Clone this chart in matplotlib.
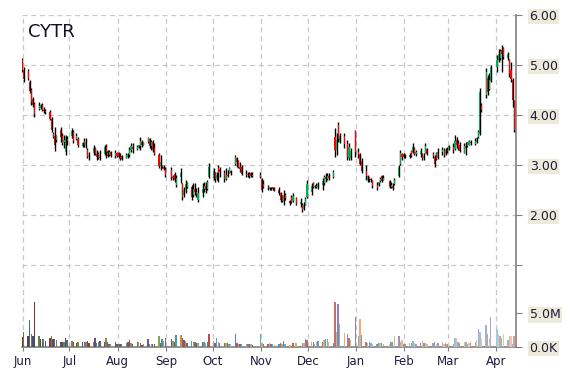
import matplotlib
matplotlib.use('Agg')
import matplotlib.pyplot as plt
import matplotlib.dates as mdates
import matplotlib.colors as mcolors
import numpy as np
import pandas as pd

# daily bars, 2012-05-31 .. 2013-04-12 (market holidays dropped)
ticker = 'CYTR'
holidays = ['2012-07-04', '2012-09-03', '2012-10-29', '2012-10-30', '2012-11-22',
            '2012-12-25', '2013-01-01', '2013-01-21', '2013-02-18', '2013-03-29']
days = pd.bdate_range('2012-05-31', '2013-04-12')
days = days[~days.isin(pd.to_datetime(holidays))]

opens = [5.10,
         4.90, 4.88, 4.66, 4.50, 4.32, 4.22, 4.12, 4.13, 4.20, 4.10, 4.08, 4.06, 3.92, 3.62, 3.58, 3.50, 3.70, 3.58, 3.45, 3.25, 3.52,
         3.58, 3.66, 3.52, 3.52, 3.38, 3.48, 3.40, 3.30, 3.18, 3.24, 3.34, 3.22, 3.22, 3.14, 3.22, 3.36, 3.28, 3.20, 3.26, 3.18, 3.24,
         3.24, 3.16, 3.18, 3.14, 3.15, 3.20, 3.30, 3.36, 3.32, 3.34, 3.38, 3.46, 3.40, 3.45, 3.52, 3.38, 3.46, 3.34, 3.20, 2.98, 2.98, 2.95, 2.92,
         2.90, 2.76, 2.82, 2.60, 2.75, 2.62, 2.40, 2.50, 2.56, 2.56, 2.40, 2.52, 2.46, 2.30, 2.44, 2.52, 2.58, 2.52, 2.76,
         2.74, 2.86, 2.74, 2.94, 2.92, 2.84, 2.72, 2.80, 2.84, 2.88, 3.02, 3.14, 3.08, 2.96, 2.96, 2.82, 2.80, 2.82, 2.84, 2.78, 2.80,
         2.72, 2.62, 2.55, 2.52, 2.55, 2.56, 2.52, 2.50, 2.44, 2.38, 2.28, 2.40, 2.28, 2.36, 2.28, 2.34, 2.22, 2.20, 2.12, 2.20, 2.36,
         2.46, 2.64, 2.55, 2.58, 2.56, 2.60, 2.64, 2.76, 2.72, 2.78, 2.76, 3.56, 3.30, 3.80, 3.46, 3.58, 3.42, 3.14, 3.14, 3.68,
         3.26, 3.22, 3.08, 2.88, 2.70, 2.76, 2.72, 2.68, 2.60, 2.60, 2.68, 2.78, 2.70, 2.68, 2.56, 2.58, 2.62, 2.78, 3.02, 3.22, 3.22,
         3.18, 3.16, 3.28, 3.26, 3.34, 3.22, 3.22, 3.22, 3.14, 3.24, 3.32, 3.22, 3.16, 3.24, 3.14, 3.26, 3.30, 3.22, 3.30,
         3.30, 3.36, 3.32, 3.50, 3.44, 3.40, 3.24, 3.38, 3.37, 3.40, 3.46, 3.42, 3.46, 3.55, 3.62, 4.20, 4.40, 4.74, 4.52, 4.68,
         4.95, 5.10, 5.14, 5.30, 5.34, 5.14, 5.10, 4.90, 4.70, 4.28]

highs = [5.14,
         4.96, 4.91, 4.69, 4.53, 4.36, 4.26, 4.26, 4.21, 4.24, 4.16, 4.12, 4.09, 3.96, 3.66, 3.76, 3.60, 3.76, 3.63, 3.60, 3.60, 3.58,
         3.73, 3.70, 3.63, 3.56, 3.46, 3.53, 3.53, 3.33, 3.26, 3.40, 3.36, 3.30, 3.26, 3.30, 3.40, 3.41, 3.30, 3.30, 3.28, 3.30, 3.26,
         3.26, 3.23, 3.20, 3.23, 3.23, 3.36, 3.43, 3.43, 3.40, 3.40, 3.56, 3.49, 3.46, 3.56, 3.53, 3.49, 3.49, 3.43, 3.23, 3.20, 3.00, 3.00, 2.96,
         2.96, 2.80, 2.86, 2.80, 2.93, 2.63, 2.56, 2.70, 2.66, 2.60, 2.63, 2.63, 2.53, 2.56, 2.63, 2.66, 2.66, 2.70, 3.03,
         2.93, 2.86, 2.86, 3.00, 2.96, 2.90, 2.93, 2.90, 2.96, 2.90, 3.20, 3.16, 3.10, 3.06, 3.00, 2.90, 2.86, 2.86, 2.86, 2.85, 2.86,
         2.73, 2.70, 2.60, 2.56, 2.56, 2.56, 2.55, 2.56, 2.46, 2.40, 2.50, 2.44, 2.30, 2.40, 2.43, 2.36, 2.33, 2.23, 2.26, 2.36, 2.70,
         2.63, 2.66, 2.60, 2.63, 2.66, 2.73, 2.80, 2.83, 2.83, 2.83, 2.90, 3.73, 3.63, 3.86, 3.63, 3.63, 3.49, 3.43, 3.33, 3.69,
         3.33, 3.23, 3.13, 2.99, 2.80, 2.76, 2.73, 2.70, 2.66, 2.66, 2.76, 2.80, 2.80, 2.70, 2.66, 2.63, 2.73, 2.99, 3.30, 3.23, 3.23,
         3.22, 3.23, 3.30, 3.43, 3.36, 3.30, 3.33, 3.23, 3.23, 3.43, 3.33, 3.26, 3.19, 3.26, 3.33, 3.36, 3.33, 3.33, 3.36,
         3.39, 3.43, 3.59, 3.56, 3.49, 3.46, 3.43, 3.46, 3.46, 3.49, 3.50, 3.53, 3.56, 3.69, 4.53, 4.23, 4.93, 4.79, 4.83, 4.99,
         5.19, 5.32, 5.32, 5.39, 5.36, 5.26, 5.12, 5.06, 4.73, 4.30]

lows = [4.86,
        4.66, 4.69, 4.43, 4.19, 4.16, 3.96, 4.09, 4.11, 4.07, 4.03, 4.02, 3.89, 3.65, 3.53, 3.28, 3.45, 3.46, 3.40, 3.33, 3.20, 3.40,
        3.53, 3.43, 3.50, 3.36, 3.36, 3.36, 3.33, 3.13, 3.10, 3.20, 3.20, 3.10, 3.12, 3.10, 3.20, 3.13, 3.16, 3.18, 3.16, 3.13, 3.16,
        3.13, 3.10, 3.10, 3.13, 3.13, 3.16, 3.26, 3.23, 3.30, 3.33, 3.30, 3.36, 3.39, 3.43, 3.33, 3.30, 3.26, 3.20, 2.93, 2.90, 2.93, 2.90, 2.76,
        2.70, 2.70, 2.66, 2.56, 2.63, 2.30, 2.36, 2.43, 2.53, 2.30, 2.36, 2.40, 2.36, 2.26, 2.36, 2.46, 2.43, 2.50, 2.73,
        2.70, 2.66, 2.70, 2.66, 2.76, 2.66, 2.70, 2.76, 2.83, 2.80, 3.00, 2.96, 2.93, 2.86, 2.80, 2.76, 2.76, 2.73, 2.76, 2.76, 2.73,
        2.46, 2.53, 2.50, 2.50, 2.50, 2.50, 2.47, 2.40, 2.26, 2.26, 2.20, 2.30, 2.20, 2.23, 2.26, 2.20, 2.16, 2.06, 2.10, 2.20, 2.33,
        2.40, 2.53, 2.53, 2.53, 2.52, 2.50, 2.60, 2.66, 2.70, 2.70, 2.73, 3.16, 3.20, 3.46, 3.43, 3.33, 3.10, 3.10, 3.10, 3.16,
        3.13, 2.99, 2.83, 2.70, 2.66, 2.66, 2.66, 2.53, 2.50, 2.58, 2.66, 2.66, 2.70, 2.53, 2.53, 2.50, 2.60, 2.76, 2.99, 3.10, 3.13,
        3.14, 3.13, 3.16, 3.23, 3.20, 3.18, 3.16, 3.10, 3.10, 3.23, 3.20, 3.13, 2.96, 3.10, 3.12, 3.20, 3.16, 3.20, 3.23,
        3.30, 3.23, 3.30, 3.33, 3.30, 3.26, 3.23, 3.20, 3.36, 3.39, 3.40, 3.39, 3.43, 3.53, 3.59, 4.06, 4.33, 4.39, 4.49, 4.66,
        4.86, 5.06, 5.09, 4.86, 5.12, 5.09, 4.76, 4.66, 4.16, 3.66]

closes = [4.90,
          4.72, 4.72, 4.48, 4.25, 4.20, 4.02, 4.18, 4.19, 4.10, 4.08, 4.06, 3.92, 3.70, 3.56, 3.40, 3.58, 3.55, 3.44, 3.50, 3.55, 3.48,
          3.68, 3.48, 3.58, 3.40, 3.44, 3.40, 3.45, 3.16, 3.20, 3.34, 3.22, 3.15, 3.14, 3.20, 3.36, 3.25, 3.18, 3.25, 3.18, 3.24, 3.18,
          3.16, 3.14, 3.12, 3.20, 3.21, 3.30, 3.38, 3.32, 3.36, 3.39, 3.48, 3.40, 3.44, 3.54, 3.38, 3.45, 3.30, 3.22, 2.98, 3.05, 2.95, 2.92, 2.80,
          2.76, 2.74, 2.70, 2.74, 2.85, 2.36, 2.50, 2.62, 2.64, 2.36, 2.52, 2.46, 2.42, 2.44, 2.52, 2.58, 2.50, 2.66, 2.95,
          2.88, 2.72, 2.80, 2.84, 2.86, 2.72, 2.80, 2.78, 2.94, 2.84, 3.15, 3.05, 2.96, 2.92, 2.82, 2.80, 2.82, 2.78, 2.78, 2.80, 2.76,
          2.50, 2.55, 2.54, 2.55, 2.53, 2.51, 2.50, 2.44, 2.30, 2.28, 2.40, 2.34, 2.24, 2.26, 2.38, 2.22, 2.26, 2.10, 2.20, 2.32, 2.62,
          2.58, 2.55, 2.58, 2.56, 2.62, 2.68, 2.76, 2.72, 2.78, 2.74, 2.86, 3.29, 3.50, 3.52, 3.58, 3.42, 3.16, 3.36, 3.28, 3.26,
          3.20, 3.02, 2.88, 2.78, 2.78, 2.72, 2.70, 2.58, 2.54, 2.65, 2.72, 2.68, 2.74, 2.56, 2.60, 2.54, 2.70, 2.96, 3.24, 3.16, 3.15,
          3.17, 3.20, 3.18, 3.36, 3.22, 3.26, 3.28, 3.14, 3.18, 3.38, 3.22, 3.18, 3.02, 3.12, 3.26, 3.30, 3.20, 3.30, 3.28,
          3.37, 3.30, 3.48, 3.40, 3.34, 3.28, 3.38, 3.34, 3.44, 3.47, 3.44, 3.48, 3.54, 3.66, 4.45, 4.10, 4.85, 4.45, 4.70, 4.95,
          5.10, 5.22, 5.28, 5.22, 5.16, 5.22, 4.82, 4.72, 4.30, 3.70]

# volume in millions of shares
volumes = [1.5,
           2.2, 1.6, 4.0, 1.9, 1.6, 6.7, 1.7, 1.2, 1.2, 1.2, 0.9, 1.4, 1.7, 1.2, 1.2, 1.1, 0.8, 0.8, 0.8, 1.4, 1.1,
           0.9, 0.8, 0.6, 0.7, 0.8, 0.7, 0.8, 0.9, 0.6, 0.7, 1.3, 0.6, 0.7, 0.9, 0.7, 1.4, 0.7, 0.5, 0.5, 0.8, 0.5,
           0.4, 0.5, 0.5, 0.6, 0.7, 1.0, 0.6, 0.5, 0.7, 0.7, 0.6, 0.3, 0.5, 1.2, 0.5, 0.4, 0.5, 0.5, 1.6, 0.6, 1.2, 0.9, 1.4,
           1.2, 0.9, 0.8, 1.8, 1.8, 1.4, 1.1, 0.9, 0.6, 0.9, 0.7, 0.8, 0.6, 0.6, 0.7, 0.7, 0.6, 0.7, 1.9,
           0.9, 0.6, 1.4, 0.7, 0.6, 0.6, 0.6, 0.6, 0.5, 0.5, 1.9, 0.6, 0.5, 0.5, 0.5, 0.4, 0.4, 0.4, 0.5, 0.3, 1.9,
           0.6, 0.5, 0.4, 0.6, 0.4, 0.4, 0.3, 0.4, 0.6, 0.5, 0.9, 0.4, 0.3, 0.2, 0.6, 0.6, 0.2, 0.6, 0.6, 1.2, 1.1,
           0.8, 0.8, 0.5, 0.8, 0.9, 0.8, 1.0, 1.2, 1.2, 0.8, 0.6, 6.7, 2.3, 6.4, 3.4, 2.1, 2.0, 1.4, 1.1, 4.4,
           1.6, 4.2, 1.8, 0.8, 0.6, 0.8, 0.6, 0.5, 0.5, 0.6, 0.6, 0.6, 0.5, 0.5, 0.8, 0.8, 1.7, 1.6, 0.8, 1.1, 0.5,
           0.5, 0.6, 0.6, 0.9, 0.6, 0.5, 0.6, 0.9, 0.6, 0.6, 0.5, 0.6, 0.7, 0.5, 0.6, 0.8, 0.5, 0.6, 0.5,
           0.6, 0.5, 1.3, 1.3, 0.7, 0.6, 0.7, 0.7, 0.5, 0.6, 0.8, 0.8, 1.0, 2.6, 2.2, 1.4, 3.2, 1.9, 1.3, 4.4,
           2.7, 2.0, 1.6, 1.4, 2.0, 1.0, 1.7, 1.6, 0.5, 1.7]

price_ticks = [1, 2, 3, 4, 5, 6]
price_labels = ['', '2.00', '3.00', '4.00', '5.00', '6.00']
vol_ticks = [0, 5]
vol_labels = ['0.0K', '5.0M']

assert len(days) == len(opens) == len(highs) == len(lows) == len(closes) == len(volumes)

x = mdates.date2num(days.to_pydatetime()) + 0.5
o, h, l, c = map(np.array, (opens, highs, lows, closes))

fig = plt.figure(figsize=(5.7, 3.7), dpi=100)
ax = fig.add_axes([21.7 / 570, 23 / 370, 494 / 570, 332 / 370])
ax2 = ax.twinx()

# candles: black wick, coloured body
ax.vlines(x, l, h, color='black', lw=1.0, zorder=3)
up = c >= o
body_col = np.where(up, '#00b050', '#ff0000')
ax.bar(x, np.maximum(np.abs(c - o), 0.02), bottom=np.minimum(o, c), width=0.7,
       color=body_col, linewidth=0, zorder=4)

ax.set_ylim(-0.64, 6.0)
ax.set_xlim(mdates.date2num(pd.Timestamp('2012-05-31 08:00')),
            mdates.date2num(pd.Timestamp('2013-04-13 12:00')))

months = pd.date_range('2012-06-01', '2013-04-01', freq='MS')
ax.set_xticks(mdates.date2num(months.to_pydatetime()))
ax.set_xticklabels([m.strftime('%b') for m in months])
ax.yaxis.tick_right()
ax.yaxis.set_label_position('right')
ax.set_yticks(price_ticks)
ax.set_yticklabels(price_labels)

grid_kw = dict(color='#c8c8c8', linestyle=(0, (4, 3)), linewidth=0.9)
ax.grid(True, **grid_kw)
ax.set_axisbelow(True)

for s in ['left', 'top']:
    ax.spines[s].set_visible(False)
for s in ['right', 'bottom']:
    ax.spines[s].set_color('#808080')
    ax.spines[s].set_linewidth(1.2)

ax.tick_params(axis='x', length=3, pad=3, colors='#808080', labelcolor='#1c1c3c', labelsize=8.5)
ax.tick_params(axis='y', which='both', left=False, labelleft=False, right=True, labelright=True,
               length=4, pad=6, colors='#808080', labelcolor='#1c1c3c', labelsize=9)

# volume on its own scale, colours cycle and fade from dark to pale over time
base = ['#c0504d', '#9bbb59', '#8064a2', '#4bacc6', '#f79646', '#4f81bd']
n = len(volumes)
vcols = []
for i in range(n):
    rgb = np.array(mcolors.to_rgb(base[i % len(base)]))
    t = -0.35 + 0.8 * i / (n - 1)
    if t < 0:
        rgb = rgb * (1 + t)
    else:
        rgb = rgb + (1 - rgb) * t
    vcols.append(rgb)
ax2.bar(x, volumes, width=0.9, color=vcols, linewidth=0)
ax2.set_ylim(0, 49.3)
ax2.set_yticks(vol_ticks)
ax2.set_yticklabels(vol_labels)
for s in ax2.spines.values():
    s.set_visible(False)
ax2.tick_params(axis='y', length=4, pad=6, colors='#808080', labelcolor='#1c1c3c', labelsize=9)

for lbl in list(ax.get_yticklabels()) + list(ax2.get_yticklabels()):
    lbl.set_bbox(dict(facecolor='#ecead9', edgecolor='none', pad=1.0))

ax.text(0.013, 0.975, ticker, transform=ax.transAxes, ha='left', va='top',
        fontsize=13, color='#111122')

fig.savefig('out.png', dpi=100)
